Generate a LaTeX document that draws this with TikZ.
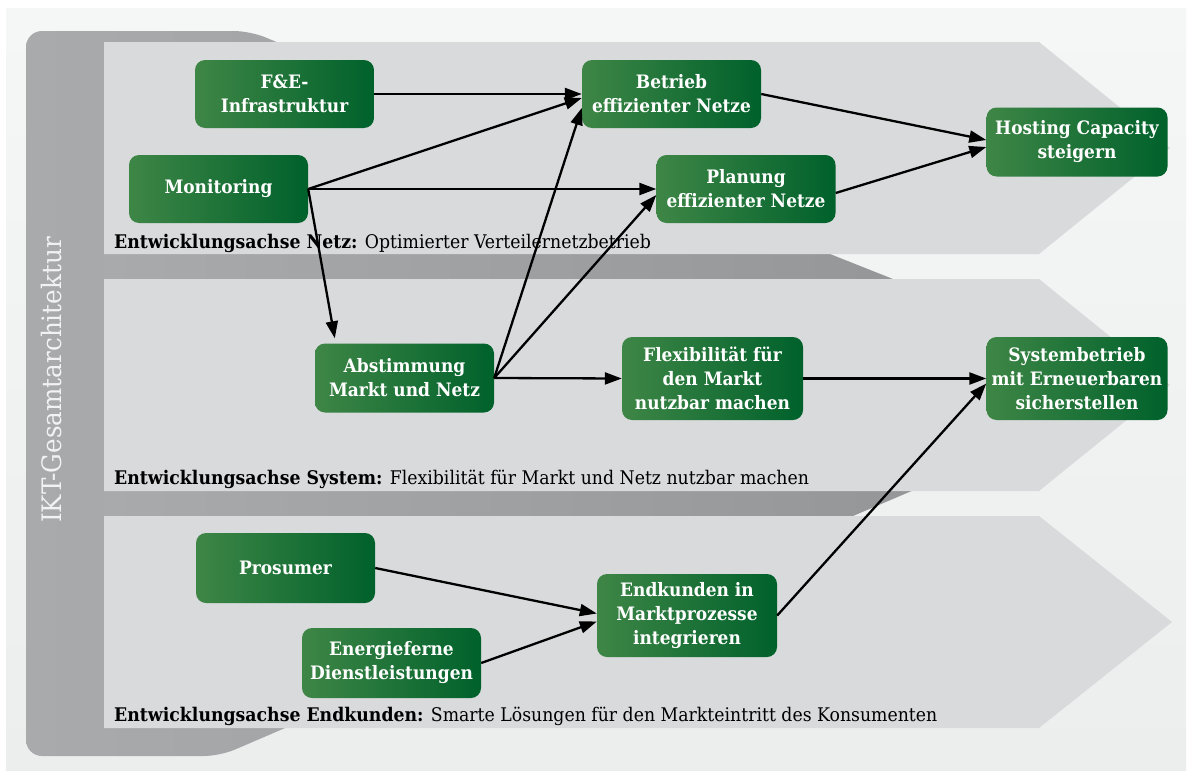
\documentclass[tikz,border=0pt]{standalone}
\usepackage{fontspec}
\setmainfont{DejaVu Serif}[FakeStretch=0.92]
\usetikzlibrary{arrows.meta,calc}
\definecolor{panelT}{HTML}{F5F6F6}
\definecolor{panelB}{HTML}{ECEDED}
\definecolor{barL}{HTML}{A9AAAC}
\definecolor{barR}{HTML}{A4A5A7}
\definecolor{bandL}{HTML}{A9AAAC}
\definecolor{bandR}{HTML}{8F9092}
\definecolor{chev}{HTML}{D9DADC}
\definecolor{gL}{HTML}{3E8646}
\definecolor{gR}{HTML}{00612B}
\definecolor{iktcol}{HTML}{F2F2F2}
\tikzset{
  box/.style={rounded corners=10pt, left color=gL, right color=gR, text=white,
    font=\bfseries\fontsize{18.5}{24}\selectfont, align=center,
    minimum width=179pt, minimum height=68pt, inner sep=0pt},
  tall/.style={minimum height=83pt},
  arr/.style={-{Triangle[length=17pt,width=12pt]}, line width=2.3pt, black},
  axis/.style={anchor=base west, font=\fontsize{18.8}{22}\selectfont, inner sep=0pt}
}
\begin{document}
\begin{tikzpicture}[x=1pt,y=-1pt]
\useasboundingbox (0,0) rectangle (1192,771);
\fill[white] (0,0) rectangle (1192,771);
\shade[top color=panelT,bottom color=panelB] (6,8) rectangle (1186,771);
% grey frame
\shade[left color=barL,right color=barR,rounded corners=16pt]
  (26,31) -- (250,31) -- (320,60) -- (320,713) -- (220,756) -- (26,756) -- cycle;
\shade[left color=bandL,right color=bandR]
  (104,254) -- (830,254) -- (1160,385) -- (853,516) -- (104,516) -- cycle;
% chevrons
\fill[chev] (104,42) -- (1039,42) -- (1170,148) -- (1039,254) -- (104,254) -- cycle;
\fill[chev] (104,279) -- (1039,279) -- (1170,385) -- (1039,491) -- (104,491) -- cycle;
\fill[chev] (104,516) -- (1039,516) -- (1172,622) -- (1039,728) -- (104,728) -- cycle;
% vertical label
\node[rotate=90, anchor=base, text=iktcol, font=\fontsize{26.8}{27}\selectfont, inner sep=0pt] (ikt) at (61,380) {IKT-Gesamtarchitektur};
% axis labels
\node[axis] (lnetz) at (114,248) {\textbf{Entwicklungsachse Netz:} Optimierter Verteilernetzbetrieb};
\node[axis] (lsys) at (114,484) {\textbf{Entwicklungsachse System:} Flexibilität für Markt und Netz nutzbar machen};
\node[axis] (lend) at (114,721) {\textbf{Entwicklungsachse Endkunden:} Smarte Lösungen für den Markteintritt des Konsumenten};
% boxes
\node[box] (fe) at (284.5,94) {F\&E-\\Infrastruktur};
\node[box] (mon) at (218.5,189) {Monitoring};
\node[box] (betrieb) at (671.5,94) {Betrieb\\effizienter Netze};
\node[box] (plan) at (746,189) {Planung\\effizienter Netze};
\node[box, minimum width=181pt, minimum height=69pt] (host) at (1077,142) {Hosting Capacity\\steigern};
\node[box, minimum height=69pt] (abst) at (404.5,378) {Abstimmung\\Markt und Netz};
\node[box, tall, minimum width=181pt] (flex) at (712.5,378.5) {Flexibilität für\\den Markt\\nutzbar machen};
\node[box, tall, minimum width=181pt] (sys) at (1077,378.5) {Systembetrieb\\mit Erneuerbaren\\sicherstellen};
\node[box, minimum height=70pt] (pros) at (285.5,568) {Prosumer};
\node[box, minimum height=70pt] (ener) at (391.5,663) {Energieferne\\Dienstleistungen};
\node[box, tall, minimum width=180pt] (endk) at (687,615.5) {Endkunden in\\Marktprozesse\\integrieren};
% connectors
\draw[arr] (fe.east) -- (betrieb.west);
\draw[arr] (mon.east) -- ([yshift=-4pt]betrieb.west);
\draw[arr] (mon.east) -- (plan.west);
\draw[arr] (mon.east) -- ([xshift=20pt,yshift=5pt]abst.north west);
\draw[arr] (abst.east) -- ([yshift=-14pt]betrieb.west);
\draw[arr] (abst.east) -- ([yshift=-6pt]plan.west);
\draw[arr] (abst.east) -- (flex.west);
\draw[arr] (betrieb.east) -- ([yshift=2pt]host.west);
\draw[arr] ([yshift=-4pt]plan.east) -- ([yshift=-5pt]host.west);
\draw[arr] (flex.east) -- (sys.west);
\draw[arr] (endk.east) -- ([yshift=-5pt]sys.west);
\draw[arr] (pros.east) -- ([yshift=2pt]endk.west);
\draw[arr] (ener.east) -- ([yshift=-6pt]endk.west);
\end{tikzpicture}
\end{document}
